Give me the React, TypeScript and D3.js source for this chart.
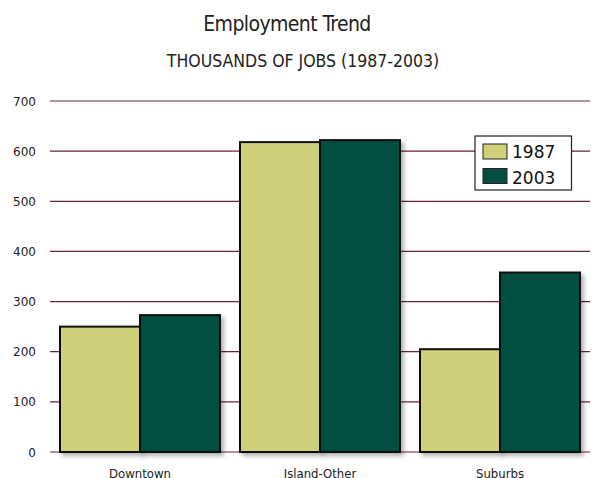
import React from "react";
import * as d3 from "d3";

const categories = ["Downtown", "Island-Other", "Suburbs"];
const series = ["1987", "2003"];
const values1987 = [250, 618, 205];
const values2003 = [273, 622, 358];
const yTicks = [0, 100, 200, 300, 400, 500, 600, 700];
const colors = ["#d1d07a", "#024f41"];

const W = 594;
const H = 478;

export default function App() {
  const x = d3.scaleBand<string>().domain(categories).range([50, 590]).paddingInner(1 / 9).paddingOuter(1 / 18);
  const x1 = d3.scaleBand<string>().domain(series).range([0, x.bandwidth()]).padding(0);
  const y = d3.scaleLinear().domain([0, 700]).range([452, 101]);
  const data = [values1987, values2003];
  const condensed = "'DejaVu Sans Condensed', 'Liberation Sans Narrow', sans-serif";
  return (
    <svg width={W} height={H} style={{ position: "absolute", left: 0, top: 0 }}>
      <defs>
        <filter id="sh" x="-10%" y="-10%" width="130%" height="130%">
          <feDropShadow dx="3" dy="3" stdDeviation="2" floodColor="#000" floodOpacity="0.3" />
        </filter>
      </defs>
      <rect width={W} height={H} fill="#fff" />
      <text x={287} y={31} textAnchor="middle" fontFamily={condensed} fontSize={21} letterSpacing={-0.6} fill="#222">
        Employment Trend
      </text>
      <text x={W / 2 + 6} y={66.5} textAnchor="middle" fontFamily={condensed} fontSize={17.5} fill="#222">
        THOUSANDS OF JOBS (1987-2003)
      </text>
      {yTicks.map((t) => (
        <g key={t}>
          <line x1={50} x2={590} y1={y(t)} y2={y(t)} stroke="#6e1f42" strokeWidth={1.2} />
          <text x={36} y={y(t) + 4.5} textAnchor="end" fontFamily="'DejaVu Sans', Verdana, sans-serif" fontSize={12} fill="#222">
            {t}
          </text>
        </g>
      ))}
      {categories.map((c, i) => (
        <g key={c}>
          {series.map((s, j) => (
            <rect
              key={s}
              x={(x(c) as number) + (x1(s) as number)}
              y={y(data[j][i])}
              width={x1.bandwidth()}
              height={y(0) - y(data[j][i])}
              fill={colors[j]}
              stroke="#111"
              strokeWidth={2}
              filter="url(#sh)"
            />
          ))}
          <text x={(x(c) as number) + x.bandwidth() / 2} y={477.5} textAnchor="middle" fontFamily={condensed} fontSize={13} fill="#222">
            {c}
          </text>
        </g>
      ))}
      <g>
        <rect x={475} y={136} width={96.5} height={54} fill="#fff" stroke="#222" strokeWidth={1.2} />
        {series.map((s, j) => (
          <g key={s}>
            <rect x={483} y={144 + j * 24.5} width={24} height={15} fill={colors[j]} stroke="#222" strokeWidth={1} />
            <text x={512} y={157.5 + j * 26.5} fontFamily="'DejaVu Sans', Verdana, sans-serif" fontSize={17} fill="#111">
              {s}
            </text>
          </g>
        ))}
      </g>
    </svg>
  );
}
